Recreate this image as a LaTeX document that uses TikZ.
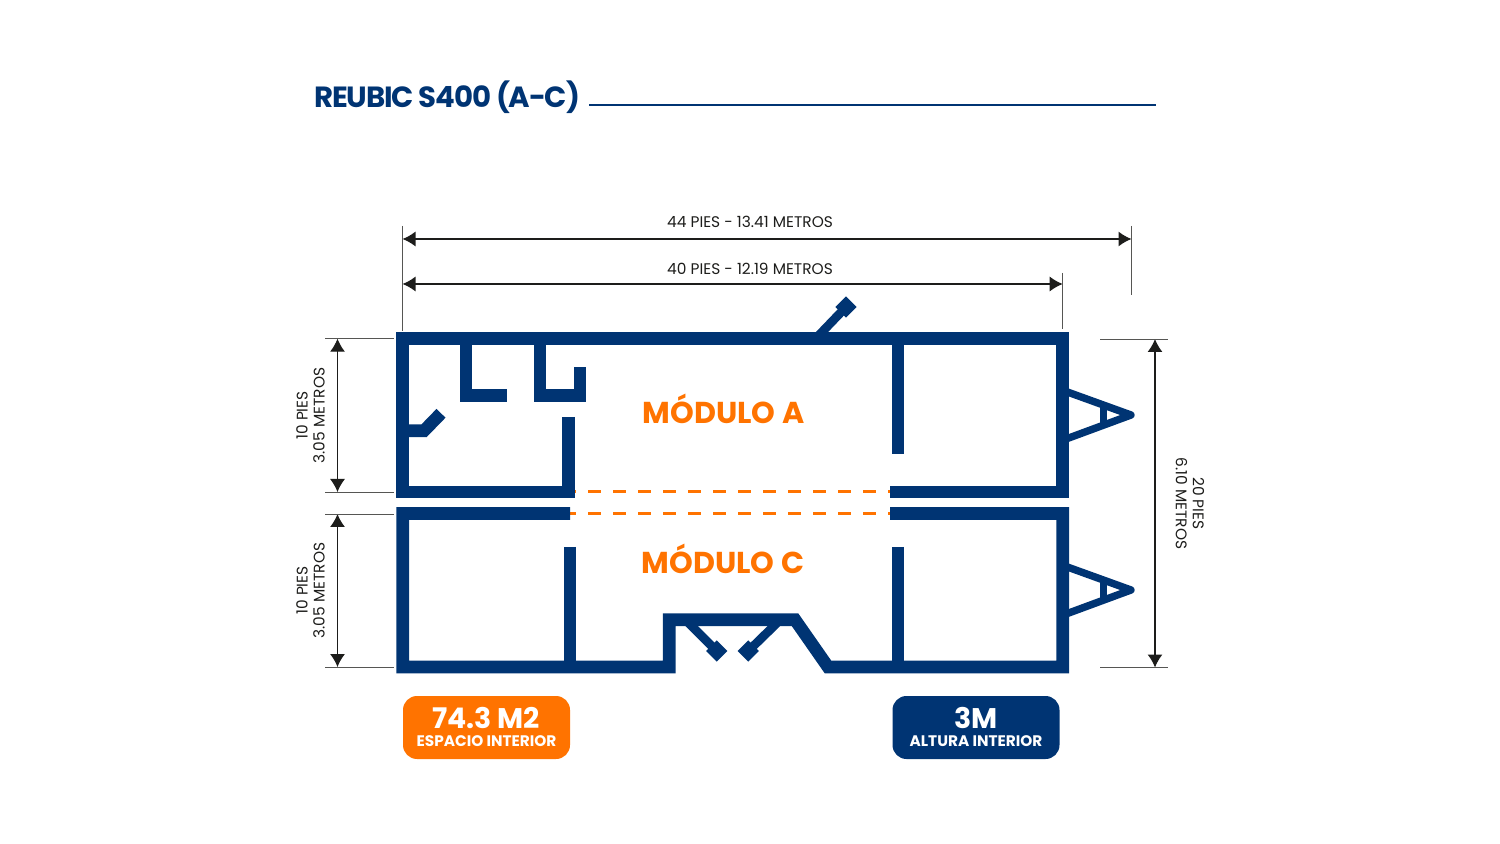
\documentclass[tikz,border=0pt]{standalone}
\usepackage{fontspec}
\setmainfont{Poppins}
\definecolor{reubicblue}{HTML}{003473}
\definecolor{reubicorange}{HTML}{FF7300}
\definecolor{dimblack}{HTML}{1D1D1B}
\usetikzlibrary{arrows.meta}
\tikzset{
    wall/.style={draw=reubicblue, line width=6.3pt, miter limit=10},
    doorstem/.style={draw=reubicblue, line width=4.4pt},
    hitch/.style={draw=reubicblue, line width=3.7pt, line join=round},
    openline/.style={draw=reubicorange, line width=1.5pt, dash pattern=on 6.25pt off 6.25pt},
    dimline/.style={draw=dimblack, line width=0.6pt, {Latex[length=6.5pt,width=7.5pt]}-{Latex[length=6.5pt,width=7.5pt]}},
    extline/.style={draw=dimblack!75, line width=0.35pt},
    dimlabel/.style={text=dimblack, font=\fontsize{7.7}{8.5}\selectfont, align=center, inner sep=0pt},
    modlabel/.style={text=reubicorange, font=\fontsize{15.1}{16}\selectfont\bfseries, inner sep=0pt, anchor=base},
    pill/.style={minimum width=83.5pt, minimum height=31.5pt, rounded corners=7pt, inner sep=0pt},
    pillbig/.style={text=white, font=\fontsize{14.2}{15}\selectfont\bfseries, inner sep=0pt, anchor=base},
    pillsmall/.style={text=white, font=\fontsize{7.65}{8}\selectfont\bfseries, inner sep=0pt, anchor=base}
}
\begin{document}
\begin{tikzpicture}[x=0.5pt,y=-0.5pt]
    \useasboundingbox (0,0) rectangle (1500,844);

    % title
    \node[anchor=base west, text=reubicblue, font=\fontsize{14.6}{16}\selectfont\bfseries\addfontfeatures{LetterSpace=-4.1}, inner sep=0pt] (title) at (314,108) {REUBIC S400 (A-C)};
    \coordinate (ruleend) at (1156,105.5);
    \draw[reubicblue, line width=1pt] (589,105.5) -- (ruleend);

    % open side between modules
    \draw[openline] (563.3,492) -- (890,492);
    \draw[openline] (563.3,513.4) -- (890,513.4);

    % module A
    \draw[wall] (568.7,417) -- (568.7,492) -- (402.7,492) -- (402.7,338.7) -- (1062.7,338.7) -- (1062.7,492) -- (890,492);
    \draw[wall] (466,339) -- (466,395.8) -- (506.7,395.8);
    \draw[wall] (540,339) -- (540,395.8) -- (580,395.8) -- (580,367.3);
    \draw[wall] (403,430.8) -- (424,430.8) -- (441,413.3);
    \draw[wall] (898,339) -- (898,454);

    % module C
    \draw[wall] (570,513.5) -- (402.7,513.5) -- (402.7,667) -- (669.2,667) -- (669.2,619.7) -- (795,619.7) -- (828,667) -- (1062.7,667) -- (1062.7,513.5) -- (890,513.5);
    \draw[wall] (570,547) -- (570,667);
    \draw[wall] (898,547) -- (898,667);

    % doors
    \draw[doorstem] (818.2,336) -- (846,307);
    \draw[doorstem] (688.5,623) -- (716.7,651);
    \draw[doorstem] (777,623) -- (748.3,651);
    \foreach \cx/\cy in {846/307,716.7/651,748.3/651} {
        \fill[reubicblue] (\cx-10.6,\cy) -- (\cx,\cy-10.6) -- (\cx+10.6,\cy) -- (\cx,\cy+10.6) -- cycle;
    }

    % hitches
    \foreach \dy in {0,175} {
        \begin{scope}[yshift=-\dy*0.5pt]
            \draw[hitch] (1066,391.5) -- (1131,415) -- (1066,439);
            \draw[reubicblue, line width=3.5pt] (1103.5,403) -- (1103.5,427);
        \end{scope}
    }

    % labels
    \node[modlabel] (moda) at (723.5,423.5) {MÓDULO A};
    \node[modlabel] (modc) at (723,573.5) {MÓDULO C};

    % length dimensions
    \coordinate (dimaw) at (402.5,239);
    \coordinate (dimae) at (1131.5,239);
    \coordinate (dimbw) at (402.5,284);
    \coordinate (dimbe) at (1062.7,284);
    \draw[dimline] (dimaw) -- (dimae);
    \draw[dimline] (dimbw) -- (dimbe);
    \draw[extline] (402.5,226) -- (402.5,331);
    \draw[extline] (1131.5,226) -- (1131.5,295);
    \draw[extline] (1062.7,273) -- (1062.7,329);
    \node[dimlabel] (lenout) at (750,221.5) {44 PIES - 13.41 METROS};
    \node[dimlabel] (lenin) at (750,268.5) {40 PIES - 12.19 METROS};

    % width dimensions
    \coordinate (dimat) at (337.5,338.7);
    \coordinate (dimab) at (337.5,492);
    \coordinate (dimct) at (337.5,514);
    \coordinate (dimcb) at (337.5,667);
    \coordinate (dimrt) at (1155,339);
    \coordinate (dimrb) at (1155,667.5);
    \draw[dimline] (dimat) -- (dimab);
    \draw[dimline] (dimct) -- (dimcb);
    \draw[dimline] (dimrt) -- (dimrb);
    \foreach \ey in {338.7,492,514,667} {
        \draw[extline] (325,\ey) -- (394,\ey);
    }
    \draw[extline] (1100,339) -- (1168,339);
    \draw[extline] (1100,667.5) -- (1168,667.5);
    \node[dimlabel, rotate=90] (widtha) at (310.5,415.5) {10 PIES\\3.05 METROS};
    \node[dimlabel, rotate=90] (widthc) at (310.5,590.5) {10 PIES\\3.05 METROS};
    \node[dimlabel, rotate=-90] (widthr) at (1190,503.5) {20 PIES\\6.10 METROS};

    % badges
    \node[pill, fill=reubicorange] (areabox) at (486.5,727.5) {};
    \node[pill, fill=reubicblue] (heightbox) at (976,727.5) {};
    \node[pillbig] (areaval) at (486,728) {74.3 M2};
    \node[pillsmall] (areatxt) at (486.5,746.3) {ESPACIO INTERIOR};
    \node[pillbig] (heightval) at (976,728) {3M};
    \node[pillsmall] (heighttxt) at (976,746.3) {ALTURA INTERIOR};
\end{tikzpicture}
\end{document}
